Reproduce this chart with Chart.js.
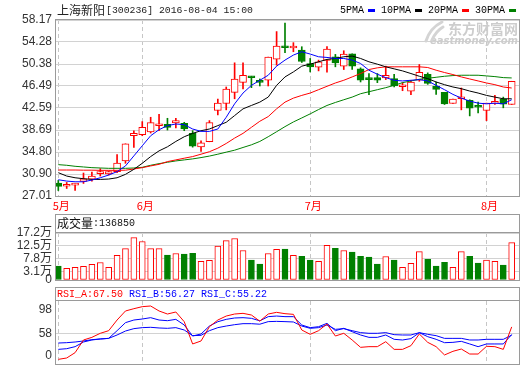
<!DOCTYPE html>
<html><head><meta charset="utf-8"><title>上海新阳[300236]</title>
<script src="https://cdn.jsdelivr.net/npm/chart.js@4/dist/chart.umd.min.js"></script>
<style>
html,body{margin:0;padding:0;background:#fff;overflow:hidden}
#wrap{position:relative;width:520px;height:365px;background:#fff}
#wrap canvas{position:absolute;left:0}
</style></head><body>
<div id="wrap">
<canvas id="cMain" width="520" height="213" style="top:0"></canvas>
<canvas id="cVol" width="520" height="73" style="top:213px"></canvas>
<canvas id="cRsi" width="520" height="79" style="top:286px"></canvas>
</div>
<script>
// ---------------- data ----------------
const STOCK_NAME = '上海新阳';
const STOCK_CODE = '[300236]';
const STAMP = '2016-08-04 15:00';
const DATES = ['05-18','05-19','05-20','05-23','05-24','05-25','05-26','05-27','05-30','05-31',
 '06-01','06-02','06-03','06-06','06-07','06-08','06-13','06-14','06-15','06-16','06-17','06-20','06-21','06-22','06-23','06-24','06-27','06-28','06-29','06-30',
 '07-01','07-04','07-05','07-06','07-07','07-08','07-11','07-12','07-13','07-14','07-15','07-18','07-19','07-20','07-21','07-22','07-25','07-26','07-27','07-28','07-29',
 '08-01','08-02','08-03','08-04'];
const MONTH_LABELS = ['5月','6月','7月','8月'];
const OPEN  = [29.29,28.74,28.94,29.59,30.01,30.98,30.90,31.32,33.22,37.68,37.86,38.34,39.45,39.70,39.94,39.88,38.10,35.72,36.61,42.14,43.39,45.36,47.14,48.00,47.17,47.50,51.24,53.30,53.21,52.85,50.47,49.82,51.01,51.66,50.00,52.20,49.52,47.65,47.97,47.91,47.79,46.35,45.59,47.50,48.57,46.43,45.36,43.39,44.22,43.93,42.77,42.14,43.42,44.17,43.21];
const HIGH  = [29.77,29.41,29.20,31.08,31.26,31.85,31.44,34.35,36.25,38.57,40.18,40.95,41.49,40.77,40.77,40.06,38.57,36.79,40.36,44.17,46.31,50.59,50.59,48.21,47.73,51.60,56.12,57.61,54.16,53.44,51.36,51.07,53.45,52.08,52.73,52.20,49.70,48.69,48.69,50.00,48.57,47.08,47.50,50.29,48.81,47.20,45.36,44.17,46.13,44.05,43.63,43.45,44.82,44.52,47.32];
const LOW   = [27.98,28.34,27.98,29.23,29.65,30.54,30.72,31.14,32.80,35.60,37.68,38.16,38.57,38.69,39.05,38.57,35.66,34.89,36.61,41.37,42.26,44.22,45.95,46.19,46.49,46.49,50.17,52.38,52.55,50.65,48.98,49.16,48.92,49.88,49.40,49.40,47.20,44.94,47.08,47.62,46.31,45.65,44.94,47.32,46.78,45.00,43.21,43.39,42.26,41.19,41.73,40.36,43.21,42.62,43.21];
const CLOSE = [28.70,28.78,29.17,30.07,30.54,31.05,31.32,32.86,36.25,38.10,39.17,40.00,39.50,39.17,40.36,38.87,35.84,36.43,40.00,43.45,45.95,47.73,48.39,47.95,47.12,51.60,53.56,53.25,53.51,50.83,49.88,50.77,53.03,50.59,52.14,50.00,47.50,47.60,47.50,48.39,46.49,46.40,47.20,48.92,46.96,45.89,43.33,44.17,44.52,42.56,42.72,43.45,43.47,43.27,47.32];
const MA5  = [29.89,29.65,29.53,29.53,29.83,30.24,30.72,31.32,32.33,34.11,35.90,37.68,38.75,39.47,39.76,39.64,38.87,38.45,38.45,38.87,40.95,43.33,45.24,46.60,47.50,48.39,50.00,51.07,51.96,52.55,52.14,51.66,51.54,51.36,51.36,51.07,50.47,49.28,48.57,47.97,47.50,47.38,47.50,47.62,47.38,46.60,45.83,45.00,44.34,43.81,43.45,43.33,43.45,43.33,44.05];
const MA10 = [31.14,30.54,30.24,30.07,29.95,29.95,30.01,30.24,30.84,31.73,32.80,33.99,35.00,35.72,36.67,37.50,38.10,38.57,38.87,39.47,40.06,41.25,42.44,43.04,43.63,44.52,46.60,48.09,48.98,50.00,50.35,50.77,51.19,51.36,51.66,51.78,51.36,50.77,50.35,49.88,49.52,49.16,48.69,48.21,47.79,47.20,46.72,46.31,46.01,45.59,45.24,44.82,44.52,44.22,44.22];
const MA20 = [31.61,31.61,31.61,31.58,31.58,31.55,31.55,31.55,31.58,31.79,32.03,32.33,32.62,33.10,33.40,33.70,33.99,34.41,34.85,35.48,36.31,37.26,38.10,39.17,40.24,41.07,42.44,43.63,44.34,44.82,45.24,45.83,46.43,47.02,47.50,48.09,48.69,49.40,49.70,49.88,49.88,49.88,49.88,49.88,49.76,49.28,48.87,48.51,48.09,47.73,47.38,47.02,46.72,46.31,46.13];
const MA30 = [32.56,32.45,32.27,32.15,32.03,31.97,31.91,31.91,31.91,31.97,32.09,32.45,32.74,32.98,33.22,33.40,33.58,33.81,34.08,34.41,34.77,35.12,35.60,36.07,36.67,37.50,38.39,39.29,40.12,40.83,41.55,42.32,43.04,43.57,44.05,44.52,45.12,45.47,45.83,46.19,46.60,47.08,47.38,47.68,47.85,48.03,48.21,48.33,48.39,48.39,48.39,48.27,48.15,47.97,47.91];
const VOLUME = [51000,42500,46000,49700,57000,64000,46000,90000,115000,155000,141000,115000,115000,91000,97000,94500,98000,68000,72000,124000,144000,152000,108000,73000,58000,97000,112000,113000,90000,87000,73000,68000,127000,116000,108000,102000,87000,84000,58000,86000,73000,46000,61000,104000,76000,51000,65000,46000,104000,87000,62000,73000,68000,54500,136850];
const RSI_A = [19.4,21.4,29.3,48.1,52.0,58.0,61.9,77.7,91.1,94.5,97.5,98.5,91.1,86.6,89.6,75.2,42.2,46.6,67.8,77.7,83.6,86.6,87.6,85.1,76.0,86.6,89.1,87.1,86.1,62.9,56.5,61.9,71.8,54.0,58.0,48.1,37.2,38.2,38.2,45.6,34.2,34.2,39.7,57.0,44.6,38.2,25.9,31.3,34.7,27.3,27.3,38.7,38.2,34.2,67.50];
const RSI_B = [34.2,35.2,38.2,45.1,48.1,49.6,50.5,61.9,73.8,77.7,79.2,81.2,77.7,76.7,78.7,70.3,54.0,57.0,68.8,75.2,78.7,80.7,81.2,80.2,76.5,82.7,83.6,82.7,82.7,70.3,66.4,67.8,72.8,61.9,65.4,60.4,55.5,52.0,52.0,55.5,49.1,48.1,50.1,58.9,53.0,49.1,44.1,44.6,46.1,42.2,38.2,42.2,42.2,42.2,56.27];
const RSI_C = [43.6,44.1,45.1,46.6,48.6,49.6,50.5,55.5,61.4,64.9,66.4,66.9,65.9,65.4,66.4,62.9,54.5,55.0,61.9,66.4,68.8,70.8,72.3,72.3,71.5,75.3,75.7,75.3,74.8,68.8,65.4,66.4,70.3,63.9,64.9,61.9,59.0,58.0,58.0,59.0,56.0,55.5,55.5,59.0,56.5,54.5,50.5,50.5,50.5,48.1,48.1,49.1,49.1,49.1,55.22];
const PRICE_TICKS = [27.01,30.90,34.80,38.69,42.59,46.49,50.38,54.28,58.17];
const VOL_TICKS = [0,31000,78000,125000,172000];
const VOL_TICK_LABELS = ['0','3.1万','7.8万','12.5万','17.2万'];
const RSI_TICKS = [0,58,98];
const RSI_TICK_LABELS = ['0','58','98'];
const MA_LABELS = ['5PMA','10PMA','20PMA','30PMA'];

// ---------------- style ----------------
const RED = '#ff0000', GREEN = '#008000', BLUE = '#0000ff', BLACK = '#000000';
const MA_COLORS = [BLUE, BLACK, RED, GREEN];
const FRAME = '#9a9a9a', GRID = '#d2d2d2', DGRID = '#c6c6c6';
const MONO = "'Liberation Mono', monospace";
const CJK = "'Noto Sans CJK SC', sans-serif";

Chart.defaults.animation = false;
Chart.defaults.events = [];
Chart.defaults.plugins.legend.display = false;
Chart.defaults.plugins.tooltip.enabled = false;
Chart.defaults.font.family = "'Liberation Sans', 'Noto Sans CJK SC', sans-serif";
Chart.defaults.font.size = 12;
Chart.defaults.color = '#333';

const N = DATES.length;
const IDX = DATES.map((d, i) => i);
const UP = OPEN.map((o, i) => CLOSE[i] >= o);
const C_LINE = UP.map(u => u ? RED : GREEN);
const C_FILL = UP.map(u => u ? '#ffffff' : GREEN);
const MONTH_IDX = IDX.filter(i => i === 0 || DATES[i].slice(0, 2) !== DATES[i - 1].slice(0, 2));
const X_MIN = -0.274, X_MAX = N - 1 + 0.87;

function xAxis(show) {
  return {
    type: 'linear', min: X_MIN, max: X_MAX, offset: false,
    afterBuildTicks: s => { s.ticks = MONTH_IDX.map(v => ({ value: v })); },
    ticks: { display: show, autoSkip: false, maxRotation: 0, minRotation: 0, color: RED,
      font: { family: CJK, size: 11 }, padding: 3, labelOffset: 3,
      callback: (v, i) => MONTH_LABELS[i] },
    grid: { color: DGRID, drawTicks: false, offset: false, lineWidth: 1 },
    border: { display: false, dash: [4, 3] },
    afterFit: s => { s.height = show ? 17 : 0; s.paddingLeft = 0; s.paddingRight = 0; }
  };
}
function yFit(s) { s.width = 56; s.paddingTop = 0; s.paddingBottom = 0; }

function framePlugin(headerTop) {
  return {
    id: 'frame',
    afterDraw(chart) {
      const { ctx, chartArea: a } = chart;
      const L = Math.round(a.left) - 0.5, R = Math.round(a.right) + 0.5;
      const T = headerTop != null ? headerTop : Math.round(a.top) - 0.5;
      const B = Math.round(a.bottom) + 0.5;
      ctx.save();
      ctx.strokeStyle = FRAME; ctx.lineWidth = 1;
      ctx.strokeRect(L, T, R - L, B - T);
      if (headerTop != null) {
        ctx.beginPath(); ctx.moveTo(L, Math.round(a.top) - 0.5); ctx.lineTo(R, Math.round(a.top) - 0.5); ctx.stroke();
      }
      ctx.restore();
    }
  };
}

// ---------------- main candle chart ----------------
const mainText = {
  id: 'mainText',
  beforeDatasetsDraw(chart) {
    const ctx = chart.ctx;
    ctx.save();
    ctx.fillStyle = '#cdcdcd';
    ctx.textAlign = 'right'; ctx.textBaseline = 'middle';
    ctx.font = "bold 14px " + CJK;
    ctx.fillText('东方财富网', 518, 29);
    ctx.font = "bold italic 10px 'DejaVu Sans', sans-serif";
    ctx.fillText('eastmoney.com', 518, 41.5);
    ctx.strokeStyle = '#d4d4d4'; ctx.lineWidth = 3; ctx.lineCap = 'round';
    ctx.beginPath(); ctx.moveTo(426, 41); ctx.quadraticCurveTo(430, 28, 442, 22); ctx.stroke();
    ctx.beginPath(); ctx.moveTo(432, 40); ctx.quadraticCurveTo(436, 31, 443, 27); ctx.stroke();
    ctx.restore();
  },
  afterDraw(chart) {
    const ctx = chart.ctx;
    ctx.save();
    ctx.textBaseline = 'middle'; ctx.textAlign = 'left';
    ctx.fillStyle = '#222';
    ctx.font = "12px " + CJK;
    ctx.fillText(STOCK_NAME, 57, 10);
    ctx.font = "9.8px " + MONO;
    ctx.fillText(STOCK_CODE + ' ' + STAMP, 106, 10.5);
    let x = 340; const y = 10.5;
    ctx.font = "10px " + MONO;
    MA_LABELS.forEach((lab, k) => {
      ctx.fillStyle = '#000';
      ctx.fillText(lab, x, y);
      x += ctx.measureText(lab).width + 4;
      ctx.fillStyle = MA_COLORS[k];
      ctx.fillRect(x, y - 1.5, 7, 3);
      x += 13;
    });
    ctx.restore();
  }
};

const maSets = [MA5, MA10, MA20, MA30].map((arr, k) => ({
  type: 'line', label: MA_LABELS[k], data: arr.map((v, i) => ({ x: i, y: v })),
  borderColor: MA_COLORS[k], borderWidth: 1, pointRadius: 0, tension: 0, order: k
}));

new Chart(document.getElementById('cMain'), {
  type: 'bar',
  data: {
    datasets: [
      ...maSets,
      { type: 'bar', label: 'body', data: IDX.map(i => ({ x: i, y: [OPEN[i], CLOSE[i]] })),
        backgroundColor: C_FILL, borderColor: C_LINE, borderWidth: 1, borderSkipped: false,
        barThickness: 7, grouped: false, minBarLength: 2, order: 10 },
      { type: 'bar', label: 'wick', data: IDX.map(i => ({ x: i, y: [LOW[i], HIGH[i]] })),
        backgroundColor: C_LINE, borderWidth: 0, barThickness: 1, grouped: false, order: 11 }
    ]
  },
  options: {
    responsive: false,
    layout: { padding: { top: 20, right: 1, left: 0, bottom: 0 } },
    scales: {
      x: xAxis(true),
      y: {
        type: 'linear', position: 'left', min: PRICE_TICKS[0], max: PRICE_TICKS[PRICE_TICKS.length - 1],
        afterBuildTicks: s => { s.ticks = PRICE_TICKS.map(v => ({ value: v })); },
        ticks: { color: '#333', padding: 4, autoSkip: false, callback: v => v.toFixed(2) },
        grid: { color: GRID, drawTicks: false },
        border: { display: false },
        afterFit: yFit
      }
    }
  },
  plugins: [mainText, framePlugin(null)]
});

// ---------------- volume chart ----------------
const volText = {
  id: 'volText',
  afterDraw(chart) {
    const ctx = chart.ctx;
    ctx.save();
    ctx.textBaseline = 'middle'; ctx.textAlign = 'left'; ctx.fillStyle = '#111';
    ctx.font = "12px " + CJK;
    ctx.fillText('成交量', 57, 10);
    ctx.font = "10px " + MONO;
    ctx.fillText(':' + VOLUME[N - 1], 93, 10.5);
    ctx.restore();
  }
};
new Chart(document.getElementById('cVol'), {
  type: 'bar',
  data: {
    datasets: [{ label: '成交量', data: IDX.map(i => ({ x: i, y: VOLUME[i] })),
      backgroundColor: C_FILL, borderColor: C_LINE, borderWidth: 1, borderSkipped: false,
      barThickness: 6, grouped: false }]
  },
  options: {
    responsive: false,
    layout: { padding: { top: 20, right: 1, left: 0, bottom: 6 } },
    scales: {
      x: xAxis(false),
      y: {
        type: 'linear', min: VOL_TICKS[0], max: VOL_TICKS[VOL_TICKS.length - 1],
        afterBuildTicks: s => { s.ticks = VOL_TICKS.map(v => ({ value: v })); },
        ticks: { color: '#333', padding: 4, autoSkip: false, callback: (v, i) => VOL_TICK_LABELS[i] },
        grid: { color: GRID, drawTicks: false },
        border: { display: false },
        afterFit: yFit
      }
    }
  },
  plugins: [volText, framePlugin(1.5)]
});

// ---------------- RSI chart ----------------
const RSI_MIN = 12.5, RSI_MAX = 105.9;
const rsiText = {
  id: 'rsiText',
  afterDraw(chart) {
    const ctx = chart.ctx;
    ctx.save();
    ctx.textBaseline = 'middle'; ctx.textAlign = 'left';
    ctx.font = "10px " + MONO;
    ctx.fillStyle = RED;  ctx.fillText('RSI_A:' + RSI_A[N - 1].toFixed(2), 57, 8.5);
    ctx.fillStyle = BLUE; ctx.fillText('RSI_B:' + RSI_B[N - 1].toFixed(2), 129, 8.5);
    ctx.fillStyle = BLUE; ctx.fillText('RSI_C:' + RSI_C[N - 1].toFixed(2), 201, 8.5);
    ctx.restore();
  }
};
const rsiSet = (arr, color, lab, ord) => ({
  type: 'line', label: lab, data: arr.map((v, i) => ({ x: i, y: v })),
  borderColor: color, borderWidth: 1, pointRadius: 0, tension: 0, order: ord
});
new Chart(document.getElementById('cRsi'), {
  type: 'line',
  data: { datasets: [rsiSet(RSI_A, RED, 'RSI_A', 0), rsiSet(RSI_B, BLUE, 'RSI_B', 1), rsiSet(RSI_C, BLUE, 'RSI_C', 2)] },
  options: {
    responsive: false,
    layout: { padding: { top: 15, right: 1, left: 0, bottom: 1 } },
    scales: {
      x: xAxis(false),
      y: {
        type: 'linear', min: RSI_MIN, max: RSI_MAX,
        afterBuildTicks: s => {
          const pad = 8.5 * (s.max - s.min) / 63;
          s.ticks = RSI_TICKS.map(v => ({ value: Math.min(Math.max(v, s.min + pad), s.max - pad) }));
        },
        ticks: { color: '#333', padding: 4, autoSkip: false, callback: (v, i) => RSI_TICK_LABELS[i] },
        grid: { color: c => (c.tick && Math.abs(c.tick.value - 58) < 1e-6) ? GRID : 'rgba(0,0,0,0)', drawTicks: false },
        border: { display: false },
        afterFit: yFit
      }
    }
  },
  plugins: [rsiText, framePlugin(1.5)]
});
</script>
</body></html>
